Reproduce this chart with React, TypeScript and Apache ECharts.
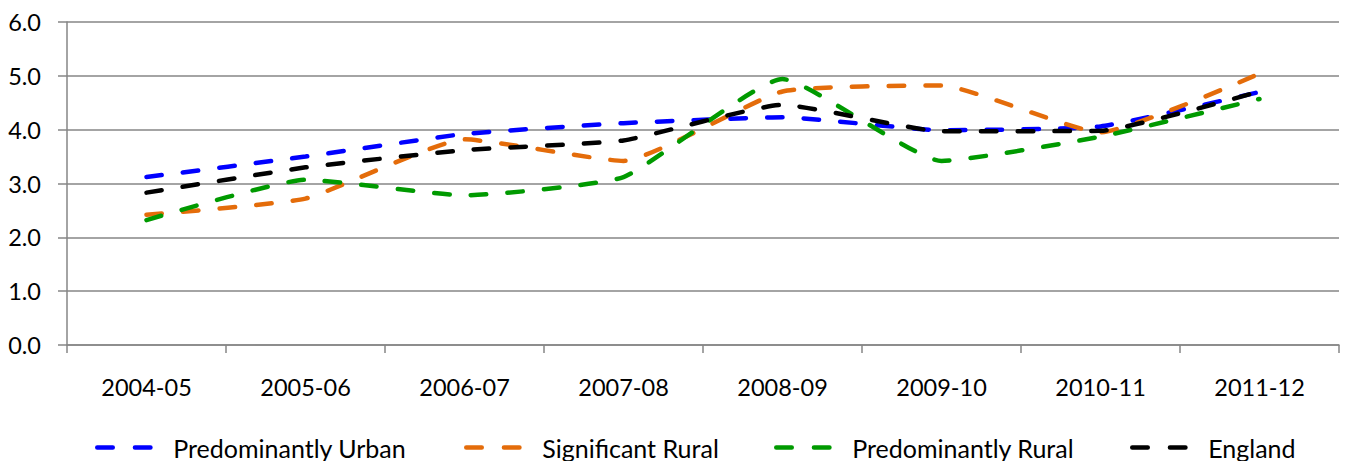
import React, { useEffect, useRef } from "react";
import * as echarts from "echarts";

const categories = ["2004-05", "2005-06", "2006-07", "2007-08", "2008-09", "2009-10", "2010-11", "2011-12"];
const urban = [3.12, 3.5, 3.92, 4.12, 4.23, 3.99, 4.06, 4.7];
const sigRural = [2.42, 2.72, 3.82, 3.42, 4.71, 4.82, 3.95, 5.04];
const predRural = [2.32, 3.07, 2.78, 3.12, 4.94, 3.42, 3.87, 4.57];
const england = [2.83, 3.3, 3.62, 3.8, 4.46, 3.97, 3.98, 4.71];
const yTicks = [0, 1, 2, 3, 4, 5, 6];

const seriesNames = ["Predominantly Urban", "Significant Rural", "Predominantly Rural", "England"];
const seriesColors = ["#0000ff", "#e46c0a", "#009a00", "#000000"];
const seriesData = [urban, sigRural, predRural, england];
const legendLefts = [95, 464, 774, 1130];

const FONT = "Lato";

export default function App() {
  const ref = useRef<HTMLDivElement>(null);
  useEffect(() => {
    if (!ref.current) return;
    const chart = echarts.init(ref.current, null, { renderer: "svg" });
    const option: any = {
      animation: false,
      backgroundColor: "#ffffff",
      grid: { left: 67, right: 10, top: 22, bottom: 116, containLabel: false },
      xAxis: {
        type: "category",
        data: categories,
        boundaryGap: true,
        axisLine: { show: true, lineStyle: { color: "#868686", width: 1.5 } },
        axisTick: { show: true, length: 8, lineStyle: { color: "#868686", width: 1.5 } },
        axisLabel: { color: "#000", fontFamily: FONT, fontSize: 23.5, margin: 30 },
      },
      yAxis: {
        type: "value",
        min: yTicks[0],
        max: yTicks[yTicks.length - 1],
        interval: 1,
        axisLine: { show: true, lineStyle: { color: "#868686", width: 1.5 } },
        axisTick: { show: true, length: 9, lineStyle: { color: "#868686", width: 1.5 } },
        splitLine: { show: true, lineStyle: { color: "#868686", width: 1.5 } },
        axisLabel: {
          color: "#000",
          fontFamily: FONT,
          fontSize: 23.5,
          margin: 26,
          formatter: (v: number) => v.toFixed(1),
        },
      },
      legend: seriesNames.map((name, i) => ({
        data: [name],
        left: legendLefts[i],
        top: 435,
        orient: "horizontal",
        itemWidth: 54,
        itemHeight: 14,
        padding: 0,
        textStyle: { color: "#000", fontFamily: FONT, fontSize: 25, padding: [0, 0, 0, 17] },
        lineStyle: { width: 4.5, type: [15.5, 22.2], cap: "round" },
        itemStyle: { opacity: 0 },
        selectedMode: false,
      })),
      series: seriesNames.map((name, i) => ({
        name,
        type: "line",
        data: seriesData[i],
        symbol: "none",
        smooth: 0.15,
        color: seriesColors[i],
        lineStyle: { color: seriesColors[i], width: 4.5, type: [15.5, 21.2], cap: "round" },
        z: 2 + i,
      })),
    };
    chart.setOption(option);
    return () => chart.dispose();
  }, []);
  return (
    <div
      ref={ref}
      style={{ position: "absolute", left: 0, top: 0, width: 1349, height: 461 }}
    />
  );
}
